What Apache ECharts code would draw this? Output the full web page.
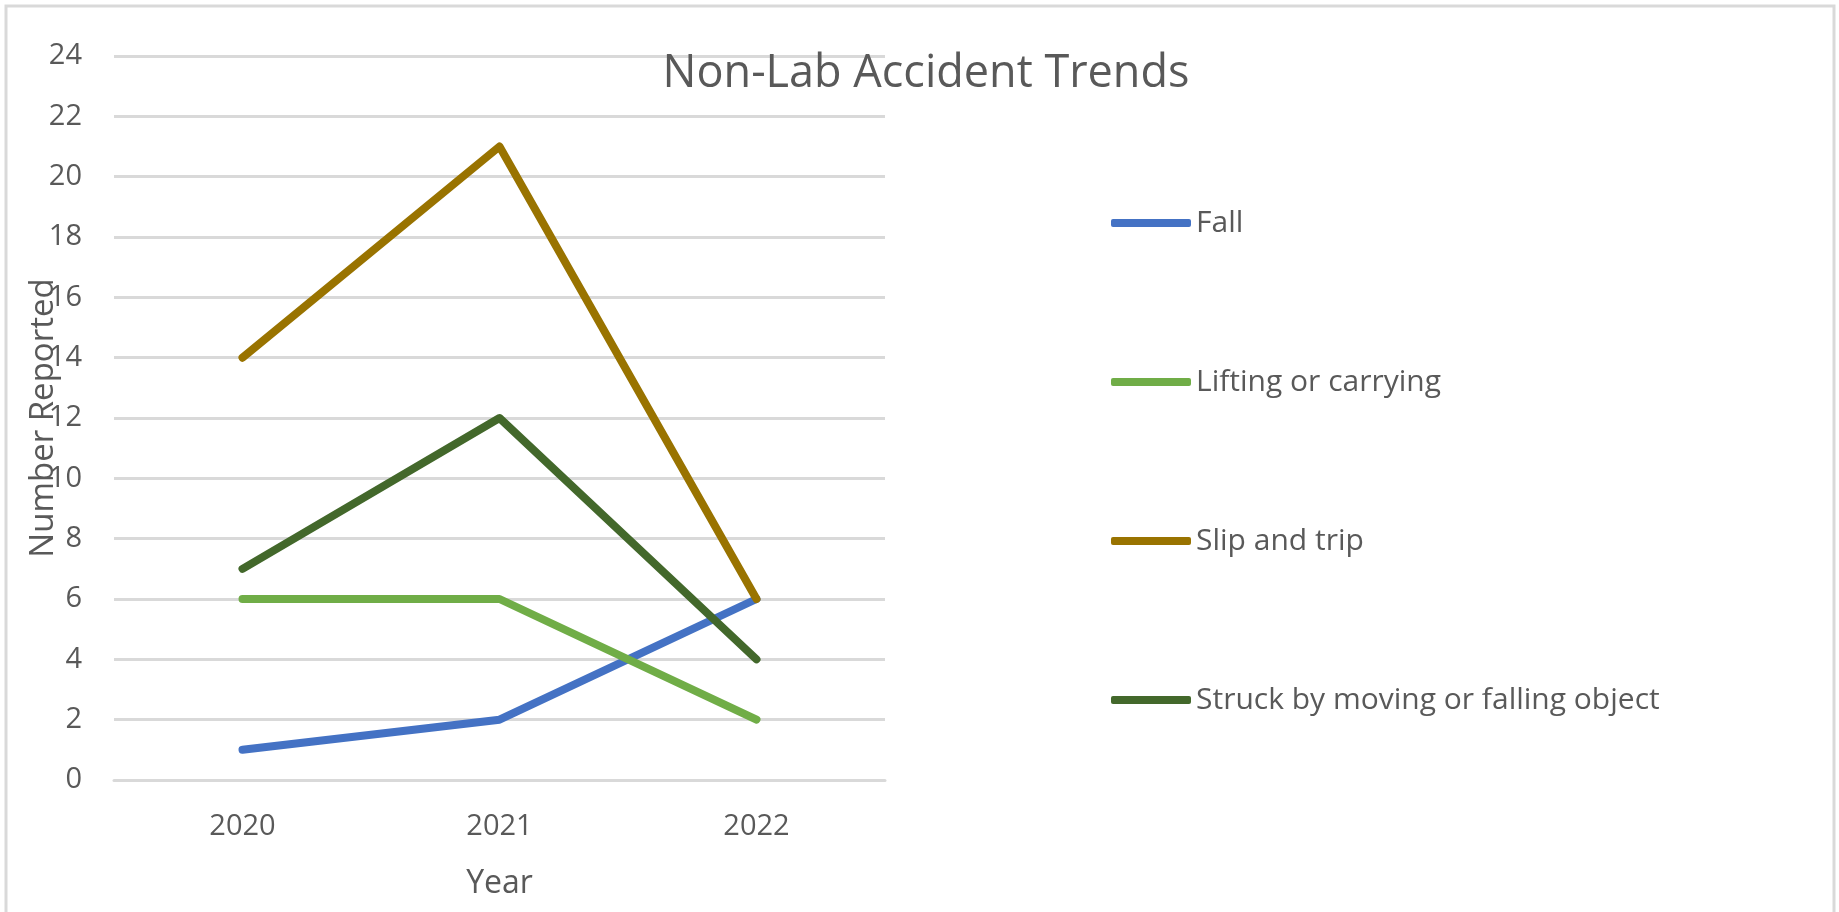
<!DOCTYPE html>
<html>
<head>
<meta charset="utf-8">
<script src="https://cdn.jsdelivr.net/npm/echarts@6/dist/echarts.min.js"></script>
<style>html,body{margin:0;padding:0;background:#fff}#c{width:1839px;height:912px}</style>
</head>
<body>
<div id="c"></div>
<script>
const years = ['2020', '2021', '2022'];
const seriesNames = ['Fall', 'Lifting or carrying', 'Slip and trip', 'Struck by moving or falling object'];
const fall = [1, 2, 6];
const lifting = [6, 6, 2];
const slip = [14, 21, 6];
const struck = [7, 12, 4];
const colors = ['#4472C4', '#70AD47', '#997300', '#43682B'];
const values = [fall, lifting, slip, struck];

const FONT = 'Open Sans';
const chart = echarts.init(document.getElementById('c'));
chart.setOption({
  backgroundColor: '#ffffff',
  animation: false,
  title: {
    text: 'Non-Lab Accident Trends',
    left: 921, top: 47, textAlign: 'center',
    textStyle: { fontFamily: FONT, fontSize: 45, fontWeight: 'normal', color: '#595959' }
  },
  graphic: [{
    type: 'rect', shape: { x: 6, y: 6, width: 1828, height: 920 },
    style: { fill: 'none', stroke: '#d9d9d9', lineWidth: 3 }, silent: true, z: -1
  }],
  legend: {
    orient: 'vertical', left: 1106, top: 200,
    itemWidth: 80, itemHeight: 8, itemGap: 123,
    icon: 'roundRect',
    textStyle: { fontFamily: FONT, fontSize: 30, color: '#595959', lineHeight: 36 },
    data: seriesNames
  },
  grid: { left: 114, right: 954, top: 56, bottom: 132 },
  xAxis: {
    type: 'category', data: years, boundaryGap: true,
    name: 'Year', nameLocation: 'middle', nameGap: 88,
    nameTextStyle: { fontFamily: FONT, fontSize: 32, color: '#595959' },
    axisLine: { show: true, lineStyle: { color: '#d9d9d9', width: 3 } },
    axisTick: { show: false },
    axisLabel: { fontFamily: FONT, fontSize: 29, color: '#595959', margin: 32 }
  },
  yAxis: {
    type: 'value', min: 0, max: 24, interval: 2,
    name: 'Number Reported', nameLocation: 'middle', nameGap: 54, nameRotate: 90,
    nameMoveOverlap: false,
    nameTextStyle: { fontFamily: FONT, fontSize: 33, color: '#595959' },
    axisLine: { show: false }, axisTick: { show: false },
    axisLabel: { fontFamily: FONT, fontSize: 29, color: '#595959', margin: 32 },
    splitLine: { lineStyle: { color: '#d9d9d9', width: 3 } }
  },
  series: seriesNames.map((n, i) => ({
    name: n, type: 'line', data: values[i],
    symbol: 'none', color: colors[i],
    lineStyle: { width: 8, color: colors[i], cap: 'round', join: 'round' }
  }))
});
</script>
</body>
</html>
